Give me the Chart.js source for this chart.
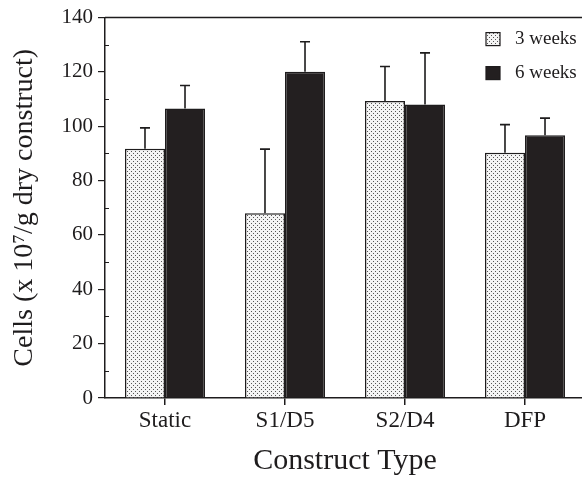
<!DOCTYPE html>
<html>
<head>
<meta charset="utf-8">
<script src="https://cdn.jsdelivr.net/npm/chart.js@4/dist/chart.umd.min.js"></script>
<style>
html,body{margin:0;padding:0;overflow:hidden;background:#fff;}
#wrap{width:590px;height:479px;position:relative;}
</style>
</head>
<body>
<div id="wrap"><canvas id="c"></canvas></div>
<script>
const categories = ['Static', 'S1/D5', 'S2/D4', 'DFP'];
const seriesLabels = ['3 weeks', '6 weeks'];
const weeks3 = [91.7, 68.0, 109.3, 90.3];
const weeks6 = [106.5, 120.1, 108.0, 96.7];
const err3 = [7.7, 23.6, 12.7, 10.3];
const err6 = [8.5, 11.0, 19.0, 6.3];
const yTicks = [0, 20, 40, 60, 80, 100, 120, 140];
const yMinorTicks = [10, 30, 50, 70, 90, 110, 130];

const INK = '#1e1c1d';
const FONT = "'Liberation Serif', 'Times New Roman', serif";

function makePattern() {
  const p = document.createElement('canvas');
  p.width = 4; p.height = 4;
  const g = p.getContext('2d');
  g.fillStyle = '#f4f4f4';
  g.fillRect(0, 0, 4, 4);
  g.fillStyle = '#555';
  g.fillRect(1, 1, 1, 1);
  g.fillRect(3, 3, 1, 1);
  const ctx = document.createElement('canvas').getContext('2d');
  return ctx.createPattern(p, 'repeat');
}
const dotted = makePattern();

const errorBars = {
  id: 'errorBars',
  afterDatasetsDraw(chart) {
    const ctx = chart.ctx;
    const y = chart.scales.y;
    ctx.save();
    ctx.strokeStyle = INK;
    ctx.lineWidth = 1.6;
    chart.data.datasets.forEach((ds, i) => {
      const meta = chart.getDatasetMeta(i);
      meta.data.forEach((bar, j) => {
        const v = ds.data[j];
        const e = ds.errors[j];
        const top = y.getPixelForValue(v + e);
        const base = y.getPixelForValue(v);
        ctx.beginPath();
        ctx.moveTo(bar.x, base);
        ctx.lineTo(bar.x, top);
        ctx.moveTo(bar.x - 5, top);
        ctx.lineTo(bar.x + 5, top);
        ctx.stroke();
      });
    });
    ctx.restore();
  }
};

const frame = {
  id: 'frame',
  afterDraw(chart) {
    const ctx = chart.ctx;
    const a = chart.chartArea;
    const y = chart.scales.y;
    ctx.save();
    ctx.strokeStyle = INK;
    ctx.lineWidth = 1.5;
    ctx.beginPath();
    ctx.moveTo(a.left, a.top);
    ctx.lineTo(a.right, a.top);
    ctx.stroke();
    ctx.lineWidth = 1;
    ctx.beginPath();
    yMinorTicks.forEach(v => {
      const py = Math.round(y.getPixelForValue(v)) + 0.5;
      ctx.moveTo(a.left, py);
      ctx.lineTo(a.left + 4, py);
    });
    ctx.stroke();
    // legend
    ctx.font = '19px ' + FONT;
    ctx.textBaseline = 'middle';
    ctx.textAlign = 'left';
    chart.data.datasets.forEach((ds, i) => {
      const bx = a.right - 99, by = a.top + 15 + i * 34;
      ctx.fillStyle = ds.backgroundColor;
      ctx.fillRect(bx, by, 14, 13);
      ctx.strokeStyle = INK;
      ctx.lineWidth = 1.2;
      ctx.strokeRect(bx, by, 14, 13);
      ctx.fillStyle = INK;
      ctx.fillText(ds.label, bx + 29, by + 6);
    });
    ctx.restore();
  }
};

new Chart(document.getElementById('c'), {
  type: 'bar',
  data: {
    labels: categories,
    datasets: [
      { label: seriesLabels[0], data: weeks3, errors: err3, backgroundColor: dotted, borderColor: INK, borderWidth: 1.5, borderSkipped: 'bottom' },
      { label: seriesLabels[1], data: weeks6, errors: err6, backgroundColor: '#231f20', borderColor: INK, borderWidth: 1.5, borderSkipped: 'bottom' }
    ]
  },
  options: {
    responsive: true,
    maintainAspectRatio: false,
    animation: false,
    devicePixelRatio: 1,
    layout: { padding: { top: 16, right: 5, left: 0, bottom: 0 } },
    plugins: { legend: { display: false }, tooltip: { enabled: false } },
    datasets: { bar: { categoryPercentage: 0.667, barPercentage: 1.0 } },
    scales: {
      x: {
        grid: { display: true, drawOnChartArea: false, offset: false, color: INK, tickLength: 7, lineWidth: 1.5 },
        border: { display: true, color: INK, width: 1.5 },
        ticks: { color: INK, font: { family: FONT, size: 23 }, padding: 2 },
        title: { display: true, text: 'Construct Type', color: INK, font: { family: FONT, size: 30 }, padding: { top: 0, bottom: 0 } },
        afterFit(s) { s.height = 81; }
      },
      y: {
        min: 0, max: 140,
        afterBuildTicks(s) { s.ticks = yTicks.map(v => ({ value: v })); },
        grid: { display: true, drawOnChartArea: false, color: INK, tickLength: 7, lineWidth: 1.2 },
        border: { display: true, color: INK, width: 1.5 },
        ticks: { color: INK, font: { family: FONT, size: 21 }, padding: 5 },
        title: { display: true, text: 'Cells (x 10⁷/g dry construct)', color: INK, font: { family: FONT, size: 28 }, padding: { top: 8, bottom: 0 } },
        afterFit(s) { s.width = 105; }
      }
    }
  },
  plugins: [errorBars, frame]
});
</script>
</body>
</html>
